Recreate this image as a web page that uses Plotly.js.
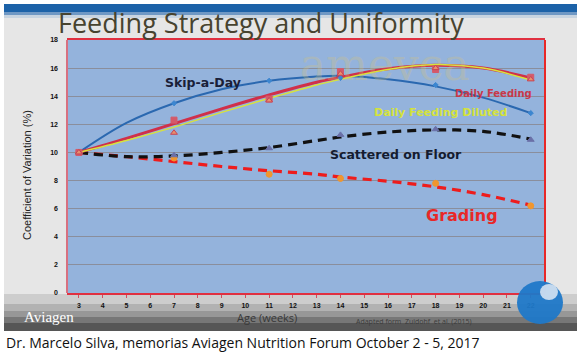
<!DOCTYPE html>
<html>
<head>
<meta charset="utf-8">
<script src="https://cdn.plot.ly/plotly-3.0.1.min.js"></script>
<style>html,body{margin:0;padding:0;background:#fff;}#chart{width:581px;height:352px;}</style>
</head>
<body>
<div id="chart"></div>
<script>
// ---- data ----
const markerWeeks = [3, 7, 11, 14, 18, 22];
const trendWeeks = [3, 5, 7, 9, 11, 13, 14, 16, 18, 20, 22];

const skipADayPts   = [10, 13.5, 15.1, 15.3, 14.8, 12.8];
const skipADayTrend = [10, 12.1, 13.5, 14.5, 15.1, 15.4, 15.45, 15.2, 14.7, 13.9, 12.8];

const dailyFeedingPts   = [10, 12.3, 13.8, 15.75, 15.9, 15.35];
const dailyFeedingTrend = [10, 11.0, 12.05, 13.1, 14.1, 15.0, 15.35, 15.95, 16.2, 16.0, 15.3];

const dilutedPts   = [10, 11.4, 13.7, 15.6, 16.0, 15.2];
const dilutedTrend = [10, 10.85, 11.8, 12.85, 13.85, 14.8, 15.2, 15.9, 16.25, 16.0, 15.15];

const scatteredPts   = [10, 9.8, 10.3, 11.25, 11.65, 10.9];
const scatteredTrend = [10, 9.7, 9.75, 10.0, 10.35, 10.85, 11.1, 11.45, 11.6, 11.5, 10.95];

const gradingPts   = [10, 9.6, 8.45, 8.15, 7.8, 6.2];
const gradingTrend = [10, 9.7, 9.35, 9.0, 8.7, 8.45, 8.25, 7.95, 7.55, 7.0, 6.25];

const xTicks = [3,4,5,6,7,8,9,10,11,12,13,14,15,16,17,18,19,20,21,22];
const yTicks = [0,2,4,6,8,10,12,14,16,18];

const titleText = "Feeding Strategy and Uniformity";
const yTitle = "Coefficient of Variation (%)";
const xTitle = "Age (weeks)";
const sourceText = "Adapted form  Zuidohf  et al. (2015)";
const captionText = "Dr. Marcelo Silva, memorias Aviagen Nutrition Forum October 2 - 5, 2017";
const seriesLabels = ["Skip-a-Day", "Daily Feeding", "Daily Feeding Diluted", "Scattered on Floor", "Grading"];

// ---- traces ----
function trend(y, color, width, dash) {
  return {x: trendWeeks, y: y, mode: 'lines', line: {color: color, width: width, dash: dash || 'solid', shape: 'spline', smoothing: 1.0}, hoverinfo: 'skip', showlegend: false};
}
function pts(y, symbol, color, size, lineColor) {
  return {x: markerWeeks, y: y, mode: 'markers', marker: {symbol: symbol, color: color, size: size, line: {color: lineColor || color, width: 1}}, showlegend: false};
}
const traces = [
  trend(gradingTrend, '#ee1c1c', 3.2, '9px,6px'),
  trend(scatteredTrend, '#111111', 3.2, '9px,6px'),
  trend(skipADayTrend, '#2a68b0', 2),
  trend(dailyFeedingTrend, '#d0304a', 3),
  trend(dilutedTrend, '#d8e23c', 1.5),
  pts(gradingPts, 'circle', '#f0962e', 6),
  pts(scatteredPts, 'triangle-up', '#6a70a8', 6),
  pts(skipADayPts, 'diamond', '#3c86d0', 4),
  pts(dailyFeedingPts, 'square', '#d45a6a', 6),
  pts(dilutedPts, 'triangle-up', '#e8906c', 6, '#c84454')
];

// pixel helpers for paper coordinates (plot area: x 67..545, y 40..293)
const L = 67, R = 545, T = 40, B = 293;
const px = v => (v - L) / (R - L);
const py = v => (B - v) / (B - T);
function band(y0, y1, color, layer) {
  return {type: 'rect', xref: 'paper', yref: 'paper', x0: px(4), x1: px(577), y0: py(y1), y1: py(y0), fillcolor: color, line: {width: 0}, layer: layer};
}
function whiteBox(x0, x1, y0, y1) {
  return {type: 'rect', xref: 'paper', yref: 'paper', x0: px(x0), x1: px(x1), y0: py(y1), y1: py(y0), fillcolor: '#ffffff', line: {width: 0}, layer: 'above'};
}

const shapes = [
  // top blue band
  band(4, 12, '#1c62a8', 'above'),
  band(12, 15, '#6f98c4', 'above'),
  band(15, 18, '#c8d4e0', 'above'),
  // bottom dark band (stepped gradient)
  band(294, 304, '#cdcdcd', 'below'),
  band(304, 311, '#b2b2b2', 'below'),
  band(311, 317, '#979797', 'below'),
  band(317, 323, '#777777', 'below'),
  band(323, 331, '#565656', 'below'),
  // white surroundings of the slide
  whiteBox(-2, 4, -2, 354),
  whiteBox(577, 583, -2, 354),
  whiteBox(-2, 583, -2, 4),
  whiteBox(-2, 583, 331, 354),
  // plot frame sides
  {type: 'line', xref: 'paper', yref: 'paper', x0: 0, x1: 0, y0: 0, y1: 1, line: {color: '#d87080', width: 2}},
  {type: 'line', xref: 'paper', yref: 'paper', x0: 1, x1: 1, y0: 0, y1: 1, line: {color: '#e82828', width: 2}},
  // blue logo bottom right
  {type: 'circle', xref: 'paper', yref: 'paper', x0: px(517), x1: px(563), y0: py(324), y1: py(281), fillcolor: '#1f78c8', line: {width: 0}, layer: 'above', opacity: 0.95},
  {type: 'circle', xref: 'paper', yref: 'paper', x0: px(540), x1: px(558), y0: py(300), y1: py(284), fillcolor: '#dfe9f4', line: {width: 0}, layer: 'above', opacity: 0.85}
];

function label(text, xPix, yPix, size, color) {
  return {xref: 'paper', yref: 'paper', x: px(xPix), y: py(yPix), text: text, showarrow: false, xanchor: 'center', yanchor: 'middle',
    font: {family: 'DejaVu Sans', size: size, color: color, weight: 'bold'}};
}

const annotations = [
  // watermark
  {xref: 'paper', yref: 'paper', x: px(385), y: py(64), text: 'amevca', showarrow: false, xanchor: 'center', yanchor: 'middle', opacity: 0.28,
    font: {family: 'DejaVu Serif', size: 44, color: '#d8c478'}},
  // title
  {xref: 'paper', yref: 'paper', x: px(261), y: py(23), text: titleText, showarrow: false, xanchor: 'center', yanchor: 'middle',
    font: {family: 'Open Sans', size: 27, color: '#47432f'}},
  // y title
  {xref: 'paper', yref: 'paper', x: px(27), y: py(175), text: yTitle, showarrow: false, textangle: -90, xanchor: 'center', yanchor: 'middle',
    font: {family: 'Liberation Sans', size: 11, color: '#222'}},
  // x title
  {xref: 'paper', yref: 'paper', x: px(267), y: py(317), text: xTitle, showarrow: false, xanchor: 'center', yanchor: 'middle',
    font: {family: 'Open Sans', size: 11, color: '#383838'}},
  // source
  {xref: 'paper', yref: 'paper', x: px(414), y: py(321), text: sourceText, showarrow: false, xanchor: 'center', yanchor: 'middle',
    font: {family: 'Open Sans', size: 7, color: '#3c3c3c'}},
  // Aviagen logo text
  {xref: 'paper', yref: 'paper', x: px(49), y: py(317), text: 'Aviagen', showarrow: false, xanchor: 'center', yanchor: 'middle',
    font: {family: 'Liberation Serif', size: 15, color: '#ffffff'}},
  // caption
  {xref: 'paper', yref: 'paper', x: px(4), y: py(342), text: captionText, showarrow: false, xanchor: 'left', yanchor: 'middle',
    font: {family: 'Open Sans', size: 14, color: '#111'}},
  // series labels
  label(seriesLabels[0], 203, 82, 12.5, '#1a2038'),
  label(seriesLabels[1], 493, 93, 10, '#c83848'),
  label(seriesLabels[2], 440, 112, 11, '#d4e23c'),
  label(seriesLabels[3], 396, 154, 12.5, '#141c30'),
  label(seriesLabels[4], 462, 215, 16, '#e82828')
];

const layout = {
  width: 581, height: 352,
  margin: {l: L, r: 581 - R, t: T, b: 352 - B, pad: 0},
  paper_bgcolor: '#e6e6e6',
  plot_bgcolor: '#94b3dc',
  showlegend: false,
  xaxis: {
    range: [2.5, 22.6], tickvals: xTicks, ticktext: xTicks.map(String),
    showgrid: false, zeroline: false,
    showline: true, linecolor: '#e03040', linewidth: 2, mirror: true,
    ticks: 'outside', ticklen: 3, tickcolor: '#d05060',
    tickfont: {family: 'Liberation Sans', size: 7, color: '#111', weight: 'bold'},
    ticklabelstandoff: 2, fixedrange: true
  },
  yaxis: {
    range: [0, 18], tickvals: yTicks, ticktext: yTicks.map(String),
    showgrid: true, gridcolor: '#8a8e9c', gridwidth: 1, zeroline: false,
    showline: false, ticks: '',
    tickfont: {family: 'Liberation Sans', size: 7, color: '#111', weight: 'bold'},
    ticklabelstandoff: 8, fixedrange: true
  },
  shapes: shapes,
  annotations: annotations
};

Plotly.newPlot('chart', traces, layout, {staticPlot: true, displayModeBar: false});
</script>
</body>
</html>
